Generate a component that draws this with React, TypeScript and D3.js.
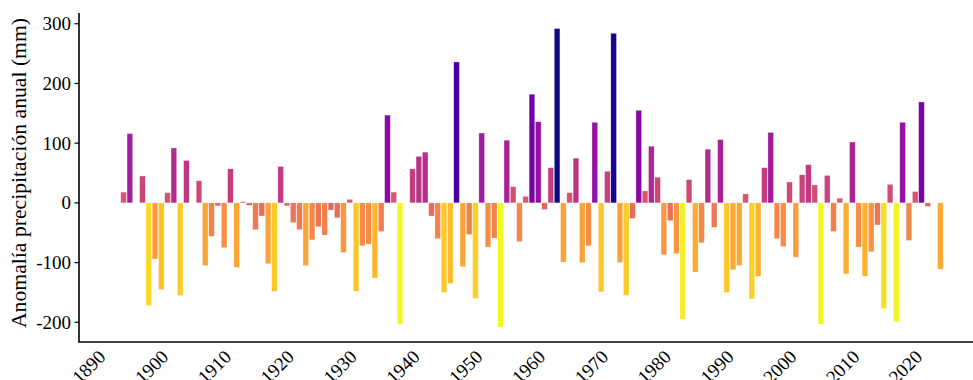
import React from "react";
import * as d3 from "d3";

// annual precipitation anomaly (mm), years with no data are left out
const years = [
  1893, 1894, 1896, 1897, 1898, 1899, 1900, 1901, 1902, 1903, 1905, 1906, 1907, 1908, 1909,
  1910, 1911, 1912, 1913, 1914, 1915, 1916, 1917, 1918, 1919, 1920, 1921, 1922, 1923, 1924,
  1925, 1926, 1927, 1928, 1929, 1930, 1931, 1932, 1933, 1934, 1935, 1936, 1937, 1939, 1940,
  1941, 1942, 1943, 1944, 1945, 1946, 1947, 1948, 1949, 1950, 1951, 1952, 1953, 1954, 1955,
  1956, 1957, 1958, 1959, 1960, 1961, 1962, 1963, 1964, 1965, 1966, 1967, 1968, 1969, 1970,
  1971, 1972, 1973, 1974, 1975, 1976, 1977, 1978, 1979, 1980, 1981, 1982, 1983, 1984, 1985,
  1986, 1987, 1988, 1989, 1990, 1991, 1992, 1993, 1994, 1995, 1996, 1997, 1998, 1999, 2000,
  2001, 2002, 2003, 2004, 2005, 2006, 2007, 2008, 2009, 2010, 2011, 2012, 2013, 2014, 2015,
  2016, 2017, 2018, 2019, 2020, 2021, 2023,
];
const anomalies = [
  18, 116, 45, -172, -94, -145, 17, 92, -155, 71, 37, -105, -56, -5, -75,
  57, -108, 2, -4, -45, -22, -102, -148, 61, -5, -33, -45, -105, -62, -40,
  -54, -12, -25, -83, 6, -148, -72, -69, -126, -48, 147, 18, -203, 57, 78,
  85, -22, -60, -150, -135, 236, -107, -53, -160, 117, -74, -59, -208, 105, 27,
  -65, 11, 182, 136, -11, 59, 292, -99, 17, 75, -100, -72, 135, -149, 53,
  284, -100, -155, -26, 155, 20, 95, 43, -87, -30, -85, -195, 39, -116, -67,
  90, -41, 106, -150, -112, -105, 15, -161, -123, 59, 118, -60, -73, 35, -91,
  47, 64, 30, -203, 46, -48, 8, -119, 102, -74, -123, -82, -37, -177, 31,
  -199, 135, -63, 19, 169, -6, -111,
];
const yTicks = [-200, -100, 0, 100, 200, 300];
const xTicks = [1890, 1900, 1910, 1920, 1930, 1940, 1950, 1960, 1970, 1980, 1990, 2000, 2010, 2020];
const yLabel = "Anomalía precipitación anual (mm)";

export default function App() {
  const width = 973;
  const height = 380;
  const left = 79;
  const top = 13;
  const bottom = 342;
  const font = "'Liberation Serif', 'DejaVu Serif', serif";

  const x = d3.scaleLinear().domain([1885.9, 2028.2]).range([left, width]);
  const y = d3.scaleLinear().domain([-233, 318]).range([bottom, top]);
  const lo = d3.min(anomalies)!;
  const hi = d3.max(anomalies)!;
  const color = (v: number) => d3.interpolatePlasma(1 - (v - lo) / (hi - lo));
  const barW = x(1) - x(0.1); // 0.9 year

  return (
    <svg
      width={width}
      height={height}
      style={{ position: "absolute", left: 0, top: 0, background: "white" }}
    >
      {years.map((yr, i) => {
        const v = anomalies[i];
        return (
          <rect
            key={yr}
            x={x(yr) - barW / 2}
            y={Math.min(y(v), y(0))}
            width={barW}
            height={Math.abs(y(v) - y(0))}
            fill={color(v)}
            stroke="white"
            strokeOpacity={0.6}
            strokeWidth={0.5}
          />
        );
      })}

      {/* y axis */}
      <line x1={left} x2={left} y1={top} y2={bottom} stroke="black" strokeWidth={1.6} />
      {yTicks.map((t) => (
        <g key={t} transform={`translate(0,${y(t)})`}>
          <line x1={left - 4.5} x2={left} stroke="black" strokeWidth={1.2} />
          <text
            x={left - 8}
            dy="0.34em"
            textAnchor="end"
            fontFamily={font}
            fontSize={19}
          >
            {t}
          </text>
        </g>
      ))}
      <text
        transform={`translate(25.5,173) rotate(-90)`}
        textAnchor="middle"
        fontFamily={font}
        fontSize={21.7}
      >
        {yLabel}
      </text>

      {/* x axis */}
      <line x1={left - 0.8} x2={width} y1={bottom} y2={bottom} stroke="black" strokeWidth={1.6} />
      {xTicks.map((t) => (
        <text
          key={t}
          transform={`translate(${x(t) + 2},358) rotate(-45)`}
          textAnchor="end"
          fontFamily={font}
          fontSize={19}
        >
          {t}
        </text>
      ))}
    </svg>
  );
}
